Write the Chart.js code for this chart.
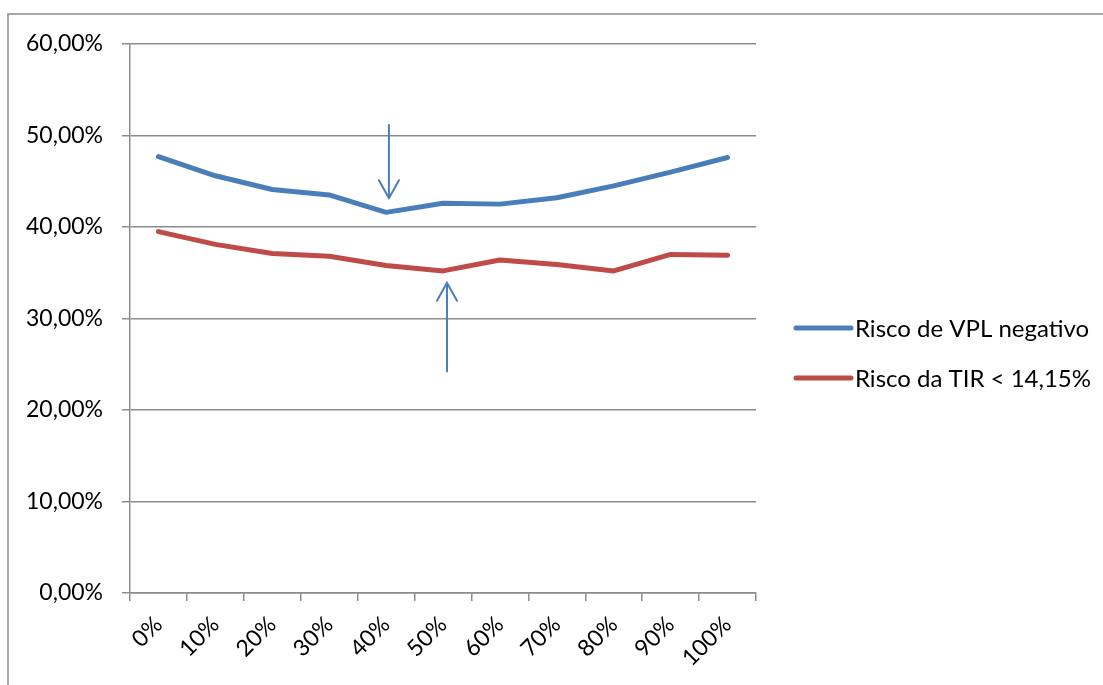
<!DOCTYPE html>
<html>
<head>
<meta charset="utf-8">
<script src="https://cdn.jsdelivr.net/npm/chart.js@4.4.1/dist/chart.umd.min.js"></script>
<style>
  html, body { margin: 0; padding: 0; background: #ffffff; }
  #wrap { width: 1103px; height: 685px; }
</style>
</head>
<body>
<div id="wrap"><canvas id="c" width="1103" height="685"></canvas></div>
<script>
// Categories (share) and the two risk series, in percent
const categories = ['0%', '10%', '20%', '30%', '40%', '50%', '60%', '70%', '80%', '90%', '100%'];
const riscoVPL = [47.7, 45.6, 44.1, 43.5, 41.6, 42.6, 42.5, 43.2, 44.5, 46.0, 47.6];
const riscoTIR = [39.5, 38.1, 37.1, 36.8, 35.8, 35.2, 36.4, 35.9, 35.2, 37.0, 36.9];
const seriesNames = ['Risco de VPL negativo', 'Risco da TIR < 14,15%'];

// Y axis range and step (percent)
const yMin = 0, yMax = 60, yStep = 10;

// Arrow callouts: x in category-index units, y from tail to tip in percent
const arrowX = [4.05, 5.07];
const arrowTail = [51.15, 24.2];
const arrowTip = [43.15, 33.9];

const FONT = 'Lato, "Noto Sans", sans-serif';
const BLUE = '#4a7ebb';
const RED = '#be4b48';
const GRID = '#8c8c8c';

const fmtPct = v => v.toFixed(2).replace('.', ',') + '%';

// Outer frame line (top and left edges)
const framePlugin = {
  id: 'frame',
  beforeDraw(chart) {
    const ctx = chart.ctx;
    ctx.save();
    ctx.strokeStyle = GRID;
    ctx.lineWidth = 1.5;
    ctx.beginPath();
    ctx.moveTo(8, chart.height);
    ctx.lineTo(8, 14);
    ctx.lineTo(chart.width, 14);
    ctx.stroke();
    ctx.restore();
  }
};

// Thin arrows pointing at the minimum of each series
const arrowPlugin = {
  id: 'arrows',
  afterDatasetsDraw(chart) {
    const ctx = chart.ctx;
    const xs = chart.scales.x, ys = chart.scales.y;
    ctx.save();
    ctx.strokeStyle = BLUE;
    ctx.lineWidth = 2;
    ctx.lineCap = 'round';
    for (let i = 0; i < arrowX.length; i++) {
      const x = xs.getPixelForValue(arrowX[i]);
      const y0 = ys.getPixelForValue(arrowTail[i]);
      const y1 = ys.getPixelForValue(arrowTip[i]);
      const dir = Math.sign(y1 - y0);
      ctx.beginPath();
      ctx.moveTo(x, y0);
      ctx.lineTo(x, y1);
      ctx.moveTo(x - 10, y1 - dir * 18);
      ctx.lineTo(x, y1);
      ctx.lineTo(x + 10, y1 - dir * 18);
      ctx.stroke();
    }
    ctx.restore();
  }
};

// Legend at the right: line sample followed by series name
const legendPlugin = {
  id: 'sideLegend',
  afterDraw(chart) {
    const ctx = chart.ctx;
    const left = chart.chartArea.right + 40;
    const top = 328, gap = 50;
    ctx.save();
    ctx.font = '24px ' + FONT;
    ctx.textBaseline = 'middle';
    ctx.fillStyle = '#000';
    chart.data.datasets.forEach((ds, i) => {
      const y = top + i * gap;
      ctx.strokeStyle = ds.borderColor;
      ctx.lineWidth = 5;
      ctx.lineCap = 'round';
      ctx.beginPath();
      ctx.moveTo(left, y);
      ctx.lineTo(left + 55, y);
      ctx.stroke();
      ctx.fillText(ds.label, left + 59, y + 1);
    });
    ctx.restore();
  }
};

new Chart(document.getElementById('c'), {
  type: 'line',
  data: {
    labels: categories,
    datasets: [
      { label: seriesNames[0], data: riscoVPL, borderColor: BLUE, borderWidth: 5, pointRadius: 0, tension: 0, borderJoinStyle: 'round', borderCapStyle: 'round' },
      { label: seriesNames[1], data: riscoTIR, borderColor: RED, borderWidth: 5, pointRadius: 0, tension: 0, borderJoinStyle: 'round', borderCapStyle: 'round' }
    ]
  },
  options: {
    responsive: false,
    animation: false,
    devicePixelRatio: 1,
    layout: { padding: { top: 44, right: 347, left: 0, bottom: 0 } },
    plugins: { legend: { display: false }, tooltip: { enabled: false } },
    scales: {
      x: {
        type: 'category',
        offset: true,
        grid: { offset: true, drawOnChartArea: false, drawTicks: true, tickLength: 8, color: GRID, lineWidth: 1.5 },
        border: { color: GRID, width: 1.5 },
        ticks: { color: '#000', font: { family: FONT, size: 23 }, minRotation: 45, maxRotation: 45, padding: 10, autoSkip: false },
        afterFit(s) { s.height = 92; }
      },
      y: {
        min: yMin, max: yMax,
        grid: { color: GRID, lineWidth: 1.5, drawTicks: true, tickLength: 8 },
        border: { color: GRID, width: 1.5 },
        ticks: { stepSize: yStep, color: '#000', font: { family: FONT, size: 23 }, padding: 19, callback: v => fmtPct(v) },
        afterFit(s) { s.width = 130; }
      }
    }
  },
  plugins: [framePlugin, arrowPlugin, legendPlugin]
});
</script>
</body>
</html>
